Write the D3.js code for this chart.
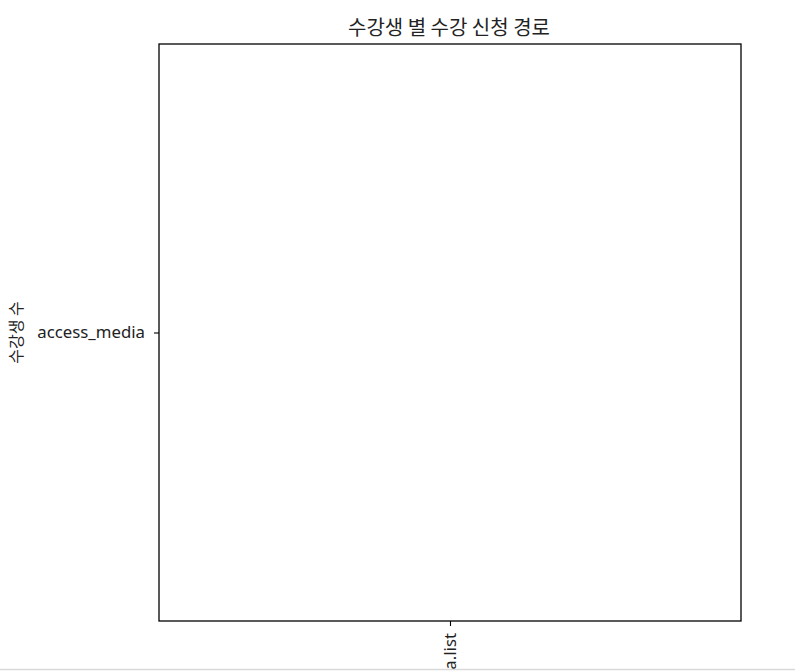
<!DOCTYPE html>
<html><head><meta charset="utf-8">
<script src="https://cdn.jsdelivr.net/npm/d3@7"></script>
<style>body{margin:0;background:#fff}svg{display:block}</style>
</head><body>
<script>
const title = "수강생 별 수강 신청 경로";
const yLabel = "수강생 수";
const xCategories = ["access_media.list"];
const yCategories = ["access_media"];

const W = 795, H = 671;
const m = {left:159, right:741, top:44, bottom:621};
const font = "'Noto Sans','Noto Sans CJK KR',sans-serif";
const fontKR = "'Noto Sans CJK KR','Noto Sans',sans-serif";
const svg = d3.select("body").append("svg").attr("width",W).attr("height",H);

const x = d3.scalePoint().domain(xCategories).range([m.left,m.right]).padding(0.5);
const y = d3.scalePoint().domain(yCategories).range([m.top,m.bottom]).padding(0.5);

const gx = svg.append("g").attr("transform",`translate(0,${m.bottom})`)
  .call(d3.axisBottom(x).tickSize(5).tickPadding(6));
gx.select(".domain").remove();
gx.selectAll(".tick line").attr("stroke","#000").attr("stroke-width",1.1);
gx.selectAll(".tick text").attr("transform","rotate(-90)")
  .attr("x",-12).attr("y",0).attr("dy","0.35em").attr("text-anchor","end")
  .attr("font-family",font).attr("font-size",16.8).attr("fill","#222");

const gy = svg.append("g").attr("transform",`translate(${m.left},0)`)
  .call(d3.axisLeft(y).tickSize(5).tickPadding(9));
gy.select(".domain").remove();
gy.selectAll(".tick line").attr("stroke","#000").attr("stroke-width",1.1);
gy.selectAll(".tick text").attr("font-family",font).attr("font-size",16.8).attr("fill","#222");

svg.append("rect").attr("x",m.left).attr("y",m.top)
  .attr("width",m.right-m.left).attr("height",m.bottom-m.top)
  .attr("fill","none").attr("stroke","#000").attr("stroke-width",1.3);

svg.append("text").attr("x",(m.left+m.right)/2 - 1).attr("y",35)
  .attr("text-anchor","middle").attr("font-family",fontKR).attr("font-size",20)
  .attr("fill","#222").text(title);

svg.append("text").attr("transform",`translate(16,${(m.top+m.bottom)/2}) rotate(-90)`)
  .attr("text-anchor","middle").attr("dy","0.35em").attr("font-family",fontKR).attr("font-size",16)
  .attr("fill","#222").text(yLabel);

svg.append("line").attr("x1",0).attr("x2",W).attr("y1",669.5).attr("y2",669.5)
  .attr("stroke","#d9d9d9").attr("stroke-width",1.5);
</script>
</body></html>
